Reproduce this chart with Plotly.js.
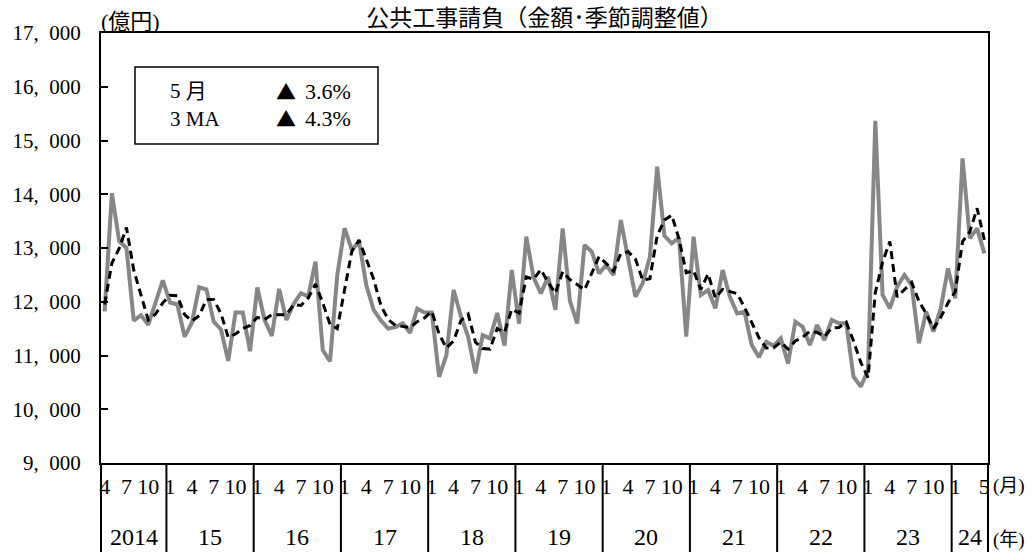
<!DOCTYPE html>
<html>
<head>
<meta charset="utf-8">
<script src="https://cdn.plot.ly/plotly-3.0.1.min.js"></script>
<style>
  html, body { margin: 0; padding: 0; background: #fff; }
  #chart { width: 1032px; height: 552px; }
</style>
</head>
<body>
<div id="chart"></div>
<script>
// ---- data ----
const yearLabels = ['2014', '15', '16', '17', '18', '19', '20', '21', '22', '23', '24'];
const firstMonthOfYear = [4, 1, 1, 1, 1, 1, 1, 1, 1, 1, 1];
const monthsInYear = [9, 12, 12, 12, 12, 12, 12, 12, 12, 12, 5];
const labelledMonths = [1, 4, 7, 10];
const finalYearLabelledMonths = [1, 5];

// 公共工事請負 金額 季節調整値 (億円), Apr 2014 - May 2024
const contracts = [
  11820, 14020, 13130, 13000, 11650, 11750, 11570, 11980, 12400,
  11985, 11950, 11350, 11610, 12270, 12230, 11630, 11485, 10900, 11800, 11800, 11080,
  12265, 11660, 11365, 12240, 11660, 11960, 12160, 12100, 12745, 11100, 10890, 12500,
  13368, 12965, 13120, 12300, 11850, 11650, 11500, 11530, 11600, 11420, 11870, 11800,
  11800, 10605, 11000, 12218, 11730, 11350, 10668, 11380, 11318, 11790, 11185, 12590,
  11592, 13210, 12450, 12156, 12466, 11850, 13366, 12010, 11596, 13055, 12931, 12528,
  12683, 12497, 13520, 12776, 12094, 12342, 12838, 14512, 13225, 13086, 13190, 11350,
  13210, 12125, 12218, 11877, 12590, 12090, 11784, 11815, 11195, 10970, 11257, 11180,
  11319, 10853, 11629, 11536, 11195, 11567, 11288, 11660, 11598, 11598, 10606, 10420,
  10730, 15367, 12125, 11877, 12280, 12497, 12311, 11226, 11815, 11443, 11877, 12621,
  12063, 14667, 13179, 13365, 12900
];

// 3ヶ月移動平均 (3MA)
const ma3 = [
  11950, 12720, 12990, 13380, 12590, 12130, 11660, 11770, 11980,
  12120, 12110, 11760, 11640, 11740, 12040, 12040, 11780, 11340, 11400, 11500, 11560,
  11710, 11670, 11760, 11760, 11760, 11950, 11930, 12070, 12330, 11980, 11580, 11500,
  12250, 12940, 13150, 12800, 12420, 11930, 11670, 11560, 11540, 11520, 11630, 11700,
  11820, 11400, 11140, 11270, 11650, 11770, 11250, 11130, 11120, 11500, 11430, 11860,
  11790, 12460, 12420, 12600, 12360, 12160, 12560, 12410, 12320, 12220, 12530, 12840,
  12710, 12570, 12900, 12930, 12800, 12400, 12430, 13230, 13520, 13610, 13170, 12540,
  12580, 12230, 12520, 12070, 12230, 12190, 12150, 11900, 11600, 11330, 11140, 11140,
  11250, 11120, 11270, 11340, 11450, 11430, 11350, 11510, 11520, 11620, 11270, 10870,
  10590, 12170, 12740, 13120, 12090, 12220, 12360, 12010, 11780, 11500, 11710, 11980,
  12190, 13120, 13300, 13740, 13150
];

const yTickValues = [9000, 10000, 11000, 12000, 13000, 14000, 15000, 16000, 17000];
const yTickText = ['9,\u2002000', '10,\u2002000', '11,\u2002000', '12,\u2002000', '13,\u2002000',
  '14,\u2002000', '15,\u2002000', '16,\u2002000', '17,\u2002000'];

const titleText = '公共工事請負（金額･季節調整値）';
const unitText = '(億円)';
const legendLabels = ['5 月', '3 MA'];
const legendMarks = ['▲', '▲'];
const legendChanges = ['3.6%', '4.3%'];

// ---- build month index ----
const monthNum = [], yearIdx = [];
yearLabels.forEach((y, k) => {
  for (let m = 0; m < monthsInYear[k]; m++) { monthNum.push(firstMonthOfYear[k] + m); yearIdx.push(k); }
});
const xs = monthNum.map((_, i) => i);
const N = xs.length;
const lastYear = yearLabels.length - 1;

const tickvals = [], ticktext = [];
monthNum.forEach((m, i) => {
  const list = yearIdx[i] === lastYear ? finalYearLabelledMonths : labelledMonths;
  if (list.includes(m)) { tickvals.push(i); ticktext.push(String(m)); }
});

// geometry helpers (pixels -> paper)
const W = 1032, H = 552;
const M = { l: 101, r: 44, t: 33, b: 89 };
const PW = W - M.l - M.r, PH = H - M.t - M.b;
const px2x = px => (px - M.l) / PW;
const px2y = py => (H - M.b - py) / PH;

const serif = '"Liberation Serif", "Noto Sans CJK JP", serif';
const sans = '"Noto Sans CJK JP", "Noto Sans", sans-serif';

const shapes = [];
const annotations = [];

// year separators (below the axis)
const bounds = [0];
monthsInYear.forEach(c => bounds.push(bounds[bounds.length - 1] + c));
bounds.forEach(b => {
  shapes.push({ type: 'line', xref: 'paper', yref: 'paper', x0: b / N, x1: b / N,
    y0: 0, y1: px2y(H), line: { color: '#000', width: 2 } });
});
// year labels
yearLabels.forEach((y, k) => {
  annotations.push({ xref: 'x', yref: 'paper', x: (bounds[k] + bounds[k + 1]) / 2 - 0.5,
    y: px2y(537), text: y, showarrow: false, xanchor: 'center', yanchor: 'middle',
    font: { family: serif, size: 24, color: '#000' } });
});
annotations.push({ xref: 'paper', yref: 'paper', x: px2x(991), y: px2y(486), text: '(月)',
  showarrow: false, xanchor: 'left', yanchor: 'middle', font: { family: serif, size: 19, color: '#000' } });
annotations.push({ xref: 'paper', yref: 'paper', x: px2x(991), y: px2y(540), text: '(年)',
  showarrow: false, xanchor: 'left', yanchor: 'middle', font: { family: serif, size: 19, color: '#000' } });
annotations.push({ xref: 'paper', yref: 'paper', x: px2x(99), y: px2y(21), text: unitText,
  showarrow: false, xanchor: 'left', yanchor: 'middle', font: { family: serif, size: 22, color: '#000' } });

// legend box
shapes.push({ type: 'rect', xref: 'paper', yref: 'paper', x0: px2x(135), x1: px2x(378),
  y0: px2y(144), y1: px2y(67), line: { color: '#000', width: 1.5 }, fillcolor: 'rgba(0,0,0,0)' });
legendLabels.forEach((lab, r) => {
  const py = 91 + r * 28;
  annotations.push({ xref: 'paper', yref: 'paper', x: px2x(168), y: px2y(py), text: lab,
    showarrow: false, xanchor: 'left', yanchor: 'middle', font: { family: serif, size: 21, color: '#000' } });
  annotations.push({ xref: 'paper', yref: 'paper', x: px2x(274), y: px2y(py), text: legendMarks[r],
    showarrow: false, xanchor: 'left', yanchor: 'middle', font: { family: sans, size: 20, color: '#000' } });
  annotations.push({ xref: 'paper', yref: 'paper', x: px2x(303), y: px2y(py), text: legendChanges[r],
    showarrow: false, xanchor: 'left', yanchor: 'middle', font: { family: serif, size: 22, color: '#000' } });
});

const traces = [
  { x: xs, y: contracts, type: 'scatter', mode: 'lines', name: '金額',
    line: { color: '#878787', width: 4 }, hoverinfo: 'skip' },
  { x: xs, y: ma3, type: 'scatter', mode: 'lines', name: '3MA',
    line: { color: '#000', width: 3, dash: '8px,5px' }, hoverinfo: 'skip' }
];

const layout = {
  width: W, height: H,
  margin: M,
  paper_bgcolor: '#fff', plot_bgcolor: '#fff',
  showlegend: false,
  title: { text: titleText, x: 0.5, xref: 'paper', y: 1 - 18 / H, yref: 'container',
    xanchor: 'center', yanchor: 'middle', font: { family: sans, size: 23, color: '#000' } },
  xaxis: {
    range: [-0.5, N - 0.5], showgrid: false, zeroline: false,
    showline: true, linecolor: '#000', linewidth: 2, mirror: true,
    ticks: '', tickvals: tickvals, ticktext: ticktext, tickangle: 0,
    tickfont: { family: serif, size: 22, color: '#000' }, ticklabelstandoff: 3
  },
  yaxis: {
    range: [9000, 17000], showgrid: false, zeroline: false,
    showline: true, linecolor: '#000', linewidth: 2, mirror: true,
    ticks: 'inside', ticklen: 7, tickwidth: 2, tickcolor: '#000',
    tickvals: yTickValues, ticktext: yTickText,
    tickfont: { family: serif, size: 21, color: '#000' }, ticklabelstandoff: 14
  },
  shapes: shapes,
  annotations: annotations
};

Plotly.newPlot('chart', traces, layout, { staticPlot: true, displayModeBar: false });
</script>
</body>
</html>
